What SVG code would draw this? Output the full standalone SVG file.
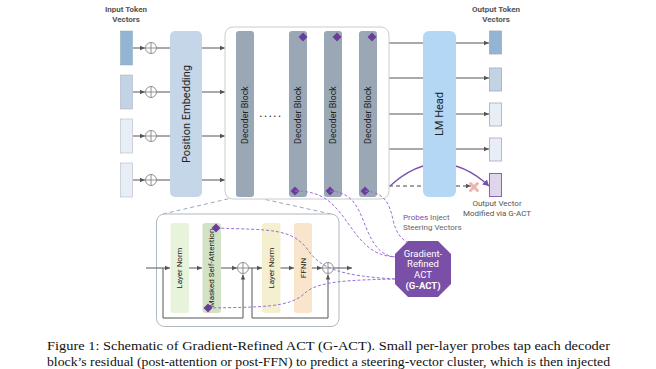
<svg xmlns="http://www.w3.org/2000/svg" width="656" height="369" viewBox="0 0 656 369">
<style>
.lbl{font-family:Roboto,"Liberation Sans",sans-serif;fill:#555;font-size:8px;text-anchor:middle}
.bold{font-weight:bold}
.blk{font-family:Roboto,"Liberation Sans",sans-serif;fill:#222;text-anchor:middle;dominant-baseline:central}
.ln{stroke:#555;stroke-width:1;fill:none}
.cp{fill:#fff;stroke:#777;stroke-width:0.8}
.dec{fill:#9aa8b6}
.dia{fill:#6a3d9a}
.probe{stroke:#9b6fd6;stroke-width:1;fill:none;stroke-dasharray:3 2}
.zoomln{stroke:#9aa8b6;stroke-width:1;fill:none;stroke-dasharray:4 3}
.cap{font-family:"Liberation Serif",serif;font-size:12.5px;fill:#111}
</style>
<defs>
<marker id="ah" markerWidth="6" markerHeight="6" refX="5" refY="3" orient="auto" markerUnits="userSpaceOnUse"><path d="M0,0.8 L5,3 L0,5.2z" fill="#555"/></marker>
<marker id="ahp" markerWidth="8" markerHeight="8" refX="6" refY="4" orient="auto" markerUnits="userSpaceOnUse"><path d="M0,0.5 L6,4 L0,7.5z" fill="#7b4fb0"/></marker>
<symbol id="plus" overflow="visible"><circle cx="0" cy="0" r="5.5" class="cp"/><path d="M-5.5,0H5.5M0,-5.5V5.5" stroke="#777" stroke-width="0.8"/></symbol>
</defs>

<!-- titles -->
<text class="lbl bold" x="126" y="12">Input Token</text>
<text class="lbl bold" x="126" y="22">Vectors</text>
<text class="lbl bold" x="496" y="12">Output Token</text>
<text class="lbl bold" x="496" y="22">Vectors</text>

<!-- connectors -->
<g id="connectors">
  <g class="ln">
    <path d="M133,48H145" marker-end="url(#ah)"/><path d="M156.5,48H170"/>
    <path d="M133,92H145" marker-end="url(#ah)"/><path d="M156.5,92H170"/>
    <path d="M133,136H145" marker-end="url(#ah)"/><path d="M156.5,136H170"/>
    <path d="M133,180H145" marker-end="url(#ah)"/><path d="M156.5,180H170"/>
    <path d="M202,48H225" marker-end="url(#ah)"/>
    <path d="M202,92H225" marker-end="url(#ah)"/>
    <path d="M202,136H225" marker-end="url(#ah)"/>
    <path d="M202,180H225" marker-end="url(#ah)"/>
    <path d="M389,43H423"/><path d="M389,78H423"/><path d="M389,114H423"/><path d="M389,149H423"/>
    <path d="M456,43H489" marker-end="url(#ah)"/>
    <path d="M456,78H489" marker-end="url(#ah)"/>
    <path d="M456,114H489" marker-end="url(#ah)"/>
    <path d="M456,149H489" marker-end="url(#ah)"/>
    <path d="M389,186H423" stroke-dasharray="4 3" stroke="#444"/>
    <path d="M456,186H471" stroke-dasharray="4 3" stroke="#444" marker-end="url(#ah)"/>
  </g>
  <path d="M390,186 Q439.5,141 489,186" stroke="#7b4fb0" stroke-width="1.2" fill="none" marker-end="url(#ahp)"/>
  <!-- zoom lines -->
  <path class="zoomln" d="M163,214L236,197"/>
  <path class="zoomln" d="M331,214L254,197"/>
</g>

<!-- input vectors -->
<g id="in1"><rect x="120.5" y="31" width="12" height="34" fill="#93b4d4" stroke="#8aa" stroke-width="0.5"/><use href="#plus" x="151" y="48"/></g>
<g id="in2"><rect x="120.5" y="75" width="12" height="34" fill="#c3d3e6" stroke="#aab" stroke-width="0.5"/><use href="#plus" x="151" y="92"/></g>
<g id="in3"><rect x="120.5" y="119" width="12" height="34" fill="#e8eef5" stroke="#aab" stroke-width="0.5"/><use href="#plus" x="151" y="136"/></g>
<g id="in4"><rect x="120.5" y="163" width="12" height="34" fill="#e8eef5" stroke="#aab" stroke-width="0.5"/><use href="#plus" x="151" y="180"/></g>

<!-- position embedding -->
<g id="pos-emb">
  <rect x="170" y="31" width="32" height="166" rx="5" fill="#c5d6e8"/>
  <text class="blk" font-size="11" transform="translate(186,114) rotate(-90)">Position Embedding</text>
</g>

<!-- decoder stack -->
<g id="decoder-stack">
  <rect x="225" y="27" width="164" height="172" rx="8" fill="#fff" stroke="#ccc" stroke-width="1"/>
  <g id="dec1"><rect class="dec" x="236" y="31" width="18" height="166" rx="3"/><text class="blk" font-size="9" transform="translate(245,115) rotate(-90)">Decoder Block</text></g>
  <text class="blk" font-size="12" x="271" y="113" letter-spacing="1.5">.....</text>
  <g id="dec2"><rect class="dec" x="289" y="31" width="18" height="166" rx="3"/><text class="blk" font-size="9" transform="translate(298,115) rotate(-90)">Decoder Block</text>
    <path class="dia" d="M303,32.5l4.5,4.5l-4.5,4.5l-4.5,-4.5z"/><path class="dia" d="M295,186.5l4.5,4.5l-4.5,4.5l-4.5,-4.5z"/></g>
  <g id="dec3"><rect class="dec" x="324" y="31" width="18" height="166" rx="3"/><text class="blk" font-size="9" transform="translate(333,115) rotate(-90)">Decoder Block</text>
    <path class="dia" d="M337,32.5l4.5,4.5l-4.5,4.5l-4.5,-4.5z"/><path class="dia" d="M330,186.5l4.5,4.5l-4.5,4.5l-4.5,-4.5z"/></g>
  <g id="dec4"><rect class="dec" x="359" y="31" width="18" height="166" rx="3"/><text class="blk" font-size="9" transform="translate(368,115) rotate(-90)">Decoder Block</text>
    <path class="dia" d="M372,32.5l4.5,4.5l-4.5,4.5l-4.5,-4.5z"/><path class="dia" d="M365,186.5l4.5,4.5l-4.5,4.5l-4.5,-4.5z"/></g>
</g>

<!-- LM head -->
<g id="lm-head">
  <rect x="423" y="31" width="33" height="166" rx="6" fill="#b3d7f5"/>
  <text class="blk" font-size="11" transform="translate(439.5,114) rotate(-90)">LM Head</text>
</g>

<!-- output vectors -->
<g id="out1"><rect x="489.5" y="31" width="12" height="23" fill="#93b4d4" stroke="#aaa" stroke-width="0.8"/></g>
<g id="out2"><rect x="489.5" y="68" width="12" height="23" fill="#c3d3e6" stroke="#aaa" stroke-width="0.8"/></g>
<g id="out3"><rect x="489.5" y="103" width="12" height="23" fill="#e8eef5" stroke="#aaa" stroke-width="0.8"/></g>
<g id="out4"><rect x="489.5" y="138" width="12" height="23" fill="#e8eef5" stroke="#aaa" stroke-width="0.8"/></g>
<g id="out5"><rect x="489.5" y="173.5" width="12" height="23" fill="#e0d6ec" stroke="#8c5fb8" stroke-width="1"/>
  <text class="lbl" x="497" y="206" fill="#666">Output Vector</text>
  <text class="lbl" x="497" y="215.5" fill="#666">Modified via G-ACT</text></g>
<g id="blocked"><path d="M470.5,183.5L477.5,190.5M477.5,183.5L470.5,190.5" stroke="#f0b4ae" stroke-width="3" stroke-linecap="round"/></g>

<!-- inner decoder detail -->
<g id="decoder-detail">
  <rect x="156.5" y="214" width="182.5" height="112.5" rx="8" fill="#fff" stroke="#b0b8c0" stroke-width="1"/>
  <g id="ln1"><rect x="170.5" y="223" width="18.5" height="90" rx="3" fill="#e8f3dc"/><text class="blk" font-size="8" transform="translate(179.75,268) rotate(-90)">Layer Norm</text></g>
  <g id="msa"><rect x="202.5" y="223" width="18.5" height="90" rx="3" fill="#d3e2c5"/><text class="blk" font-size="8" transform="translate(211.75,268) rotate(-90)">Masked Self-Attention</text></g>
  <g id="ln2"><rect x="262" y="223" width="18.5" height="90" rx="3" fill="#f4efcf"/><text class="blk" font-size="8" transform="translate(271.25,268) rotate(-90)">Layer Norm</text></g>
  <g id="ffnn"><rect x="294" y="223" width="18" height="90" rx="3" fill="#f8e5cc"/><text class="blk" font-size="8" transform="translate(303,268) rotate(-90)">FFNN</text></g>
  <g class="ln">
    <path d="M146,268H170" marker-end="url(#ah)"/>
    <path d="M189,268H202" marker-end="url(#ah)"/>
    <path d="M221,268H237" marker-end="url(#ah)"/>
    <path d="M249,268H262" marker-end="url(#ah)"/>
    <path d="M280.5,268H294" marker-end="url(#ah)"/>
    <path d="M312,268H322" marker-end="url(#ah)"/>
    <path d="M334,268H352" marker-end="url(#ah)"/>
    <path d="M163,268V318H243V274.5" marker-end="url(#ah)"/>
    <path d="M252,268V318H328V274.5" marker-end="url(#ah)"/>
  </g>
  <use href="#plus" x="243" y="268"/>
  <use href="#plus" x="328" y="268"/>
</g>

<!-- probe lines -->
<g id="probes">
  <path class="probe" d="M216,228 C270,230 292,228 308,250 C320,268 340,276 396,279"/>
  <path class="probe" d="M208,308 C260,307 290,308 305,293 C318,281 350,280 396,279"/>
  <path class="probe" d="M295,191 C325,191 335,205 350,226 C364,246 375,256 396,257"/>
  <path class="probe" d="M330,191 C356,192 360,214 368,232 C376,250 384,256 396,257"/>
  <path class="probe" d="M365,191 C385,192 390,205 393,220 C396,232 400,238 407,242"/>
  <path class="dia" d="M216,223.5l4.5,4.5l-4.5,4.5l-4.5,-4.5z"/>
  <path class="dia" d="M208,303.5l4.5,4.5l-4.5,4.5l-4.5,-4.5z"/>
</g>

<text x="403" y="220" style="font-family:Roboto,'Liberation Sans',sans-serif;font-size:8px;fill:#666"><tspan fill="#7b4fb0">Probes</tspan> Inject</text>
<text x="403" y="229.5" style="font-family:Roboto,'Liberation Sans',sans-serif;font-size:8px;fill:#666">Steering Vectors</text>

<!-- G-ACT octagon -->
<g id="gact">
  <path d="M408,241H438L451,254V284L438,297H408L395,284V254Z" fill="#7a4fa8"/>
  <g style="font-family:Roboto,'Liberation Sans',sans-serif;font-size:9.5px;fill:#fff;text-anchor:middle">
    <text x="423" y="256.5">Gradient-</text>
    <text x="423" y="267">Refined</text>
    <text x="423" y="277.5">ACT</text>
    <text x="423" y="288.5" font-weight="bold">(G-ACT)</text>
  </g>
</g>

<!-- caption -->
<text class="cap" x="47" y="350" textLength="563" lengthAdjust="spacingAndGlyphs">Figure 1: Schematic of Gradient-Refined ACT (G-ACT). Small per-layer probes tap each decoder</text>
<text class="cap" x="47" y="366" textLength="563" lengthAdjust="spacingAndGlyphs">block’s residual (post-attention or post-FFN) to predict a steering-vector cluster, which is then injected</text>
</svg>
